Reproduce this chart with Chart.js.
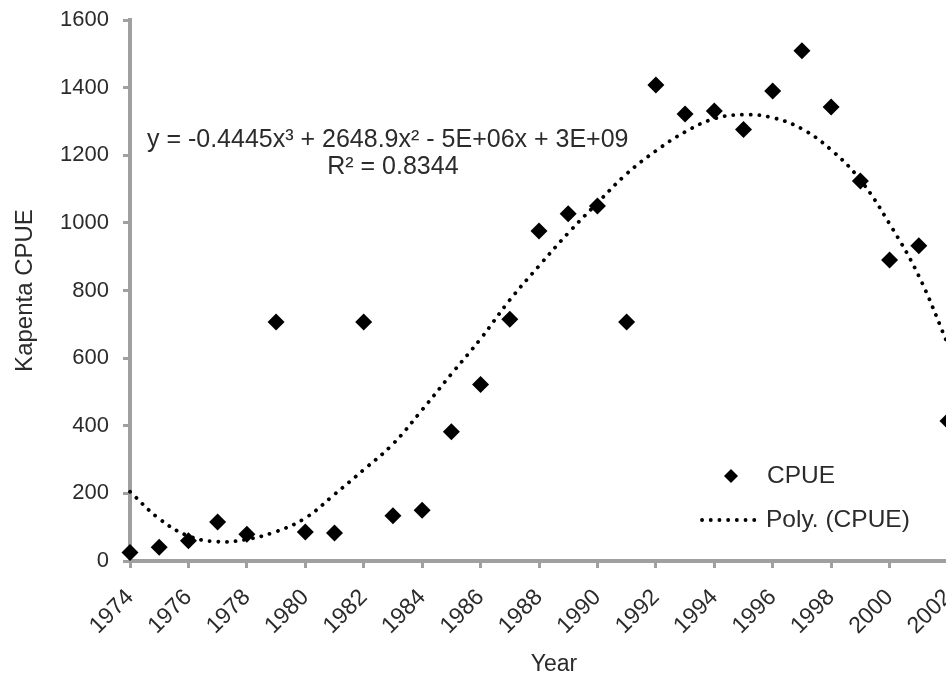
<!DOCTYPE html>
<html>
<head>
<meta charset="utf-8">
<script src="https://cdn.jsdelivr.net/npm/chart.js@4.4.1/dist/chart.umd.min.js"></script>
<style>
  html, body { margin: 0; padding: 0; background: #fff; overflow: hidden; }
  #wrap { position: relative; width: 948px; height: 684px; }
</style>
</head>
<body>
<div id="wrap"><canvas id="cpueChart"></canvas></div>
<script>
// Kapenta CPUE by year, with the polynomial trend
const years = [1974, 1975, 1976, 1977, 1978, 1979, 1980, 1981, 1982, 1983,
               1984, 1985, 1986, 1987, 1988, 1989, 1990, 1991, 1992, 1993,
               1994, 1995, 1996, 1997, 1998, 1999, 2000, 2001, 2002];
const cpue = [25, 41, 60, 115, 79, 707, 86, 83, 707, 134,
              150, 382, 522, 715, 976, 1027, 1050, 707, 1408, 1322,
              1331, 1276, 1390, 1509, 1343, 1124, 890, 932, 414];
const polyTrend = [205, 125, 74, 57, 64, 87, 127, 197, 270, 346,
                   447, 553, 657, 772, 873, 970, 1059, 1145, 1213, 1269,
                   1308, 1320, 1311, 1278, 1216, 1127, 997, 843, 640];
const xTicks = [1974, 1976, 1978, 1980, 1982, 1984, 1986, 1988, 1990,
                1992, 1994, 1996, 1998, 2000, 2002];
const yTicks = [0, 200, 400, 600, 800, 1000, 1200, 1400, 1600];

const FONT = "'Liberation Sans', Arial, sans-serif";
const TEXT = "#2b2b2b";
const AXIS = "#a0a0a0";

const pointsData = years.map((y, i) => ({ x: y, y: cpue[i] }));
const trendData = years.map((y, i) => ({ x: y, y: polyTrend[i] }));

// equation, x-axis title and custom legend drawn on top of the plot
const annotations = {
    id: "annotations",
    afterDatasetsDraw(chart) {
        const ctx = chart.ctx;
        const xs = chart.scales.x, ys = chart.scales.y;
        ctx.save();
        ctx.fillStyle = TEXT;
        ctx.font = "25px " + FONT;
        ctx.textBaseline = "middle";
        ctx.textAlign = "left";
        ctx.fillText("y = -0.4445x\u00B3 + 2648.9x\u00B2 - 5E+06x + 3E+09",
            xs.getPixelForValue(1974.58), ys.getPixelForValue(1245));
        ctx.fillText("R\u00B2 = 0.8344",
            xs.getPixelForValue(1980.75), ys.getPixelForValue(1166));

        // x axis title
        ctx.font = "23px " + FONT;
        ctx.textAlign = "center";
        ctx.fillText("Year", 554, 665);
        ctx.textAlign = "left";

        // legend: diamond + CPUE
        const lx = 731, ly1 = 476, ly2 = 520;
        ctx.fillStyle = "#000";
        ctx.beginPath();
        ctx.moveTo(lx, ly1 - 7);
        ctx.lineTo(lx + 7, ly1);
        ctx.lineTo(lx, ly1 + 7);
        ctx.lineTo(lx - 7, ly1);
        ctx.closePath();
        ctx.fill();
        ctx.fillStyle = TEXT;
        ctx.font = "24.5px " + FONT;
        ctx.fillText("CPUE", 767, ly1);

        // legend: dotted line + Poly. (CPUE)
        ctx.strokeStyle = "#000";
        ctx.lineWidth = 3.8;
        ctx.lineCap = "round";
        ctx.setLineDash([0.1, 8.6]);
        ctx.beginPath();
        ctx.moveTo(702, ly2);
        ctx.lineTo(762, ly2);
        ctx.stroke();
        ctx.setLineDash([]);
        ctx.fillText("Poly. (CPUE)", 766, ly2);
        ctx.restore();
    }
};

new Chart(document.getElementById("cpueChart"), {
    type: "scatter",
    data: {
        datasets: [
            {
                label: "CPUE",
                data: pointsData,
                pointStyle: "rectRot",
                pointRadius: 8.5,
                pointHoverRadius: 8.5,
                backgroundColor: "#000",
                borderColor: "#000",
                borderWidth: 0,
                clip: false,
                order: 1
            },
            {
                label: "Poly. (CPUE)",
                type: "line",
                data: trendData,
                showLine: true,
                pointRadius: 0,
                borderColor: "#000",
                borderWidth: 3.8,
                borderDash: [0.1, 8.6],
                borderCapStyle: "round",
                tension: 0.4,
                fill: false,
                clip: false,
                order: 2
            }
        ]
    },
    plugins: [annotations],
    options: {
        responsive: true,
        maintainAspectRatio: false,
        animation: false,
        layout: { autoPadding: false, padding: { top: 20, left: 0, right: 0, bottom: 0 } },
        plugins: {
            legend: { display: false },
            tooltip: { enabled: false }
        },
        scales: {
            x: {
                type: "linear",
                min: 1974,
                max: 2002,
                afterBuildTicks: (scale) => { scale.ticks = xTicks.map(v => ({ value: v })); },
                afterFit: (scale) => {
                    scale.height = 123;
                    scale.paddingLeft = 0;
                    scale.paddingRight = 0;
                },
                ticks: {
                    color: TEXT,
                    font: { family: FONT, size: 23 },
                    maxRotation: 45,
                    minRotation: 45,
                    padding: 16,
                    callback: (v) => String(v)
                },
                grid: { drawOnChartArea: false, drawTicks: true, tickLength: 7, color: AXIS, lineWidth: 3 },
                border: { display: true, color: AXIS, width: 4 }
            },
            y: {
                type: "linear",
                min: 0,
                max: 1600,
                afterBuildTicks: (scale) => { scale.ticks = yTicks.map(v => ({ value: v })); },
                afterFit: (scale) => {
                    scale.width = 130;
                    scale.paddingTop = 0;
                    scale.paddingBottom = 0;
                },
                ticks: {
                    color: TEXT,
                    font: { family: FONT, size: 22 },
                    padding: 14,
                    callback: (v) => String(v)
                },
                grid: { drawOnChartArea: false, drawTicks: true, tickLength: 7, color: AXIS, lineWidth: 3 },
                border: { display: true, color: AXIS, width: 4 },
                title: {
                    display: true,
                    text: "Kapenta CPUE",
                    color: TEXT,
                    font: { family: FONT, size: 24 },
                    padding: { top: 11, bottom: 4 }
                }
            }
        }
    }
});
</script>
</body>
</html>
